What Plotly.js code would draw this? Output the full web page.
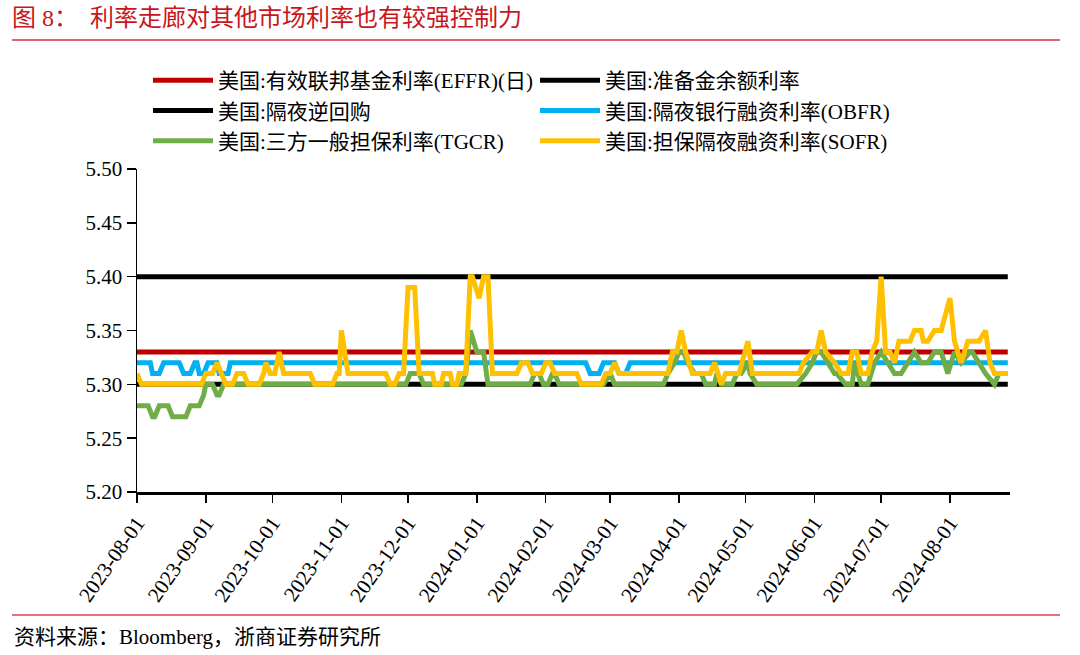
<!DOCTYPE html>
<html>
<head>
<meta charset="utf-8">
<script src="https://cdn.plot.ly/plotly-3.0.1.min.js"></script>
<style>
  html, body { margin: 0; padding: 0; background: #fff; }
  #chart { width: 1080px; height: 655px; }
</style>
</head>
<body>
<div id="chart"></div>
<script>
// ---------------- data ----------------
const tickLabels = ['2023-08-01','2023-09-01','2023-10-01','2023-11-01','2023-12-01','2024-01-01',
  '2024-02-01','2024-03-01','2024-04-01','2024-05-01','2024-06-01','2024-07-01','2024-08-01'];

const seriesNames = ['美国:有效联邦基金利率(EFFR)(日)', '美国:准备金余额利率', '美国:隔夜逆回购',
  '美国:隔夜银行融资利率(OBFR)', '美国:三方一般担保利率(TGCR)', '美国:担保隔夜融资利率(SOFR)'];

const effrDates = ['2023-08-01', '2024-08-27'];
const effrVals  = [5.33, 5.33];

const iorbDates = ['2023-08-01', '2024-08-27'];
const iorbVals  = [5.40, 5.40];

const rrpDates = ['2023-08-01', '2024-08-27'];
const rrpVals  = [5.30, 5.30];

const obfrDates = ['2023-08-01','2023-08-07','2023-08-08','2023-08-11','2023-08-13','2023-08-20','2023-08-22',
  '2023-08-25','2023-08-27','2023-08-28','2023-08-29','2023-08-31','2023-09-02','2023-09-06','2023-09-07',
  '2023-09-11','2023-09-12','2024-02-19','2024-02-21','2024-02-25','2024-02-27','2024-03-03','2024-03-05',
  '2024-03-08','2024-03-10','2024-08-27'];
const obfrVals = [5.32,5.32,5.31,5.31,5.32,5.32,5.31,
  5.31,5.32,5.32,5.31,5.31,5.32,5.32,5.31,
  5.31,5.32,5.32,5.31,5.31,5.32,5.32,5.31,
  5.31,5.32,5.32];

const tgcrDates = ['2023-08-01','2023-08-06','2023-08-08','2023-08-09','2023-08-11','2023-08-15','2023-08-17',
  '2023-08-23','2023-08-25','2023-08-29','2023-08-31','2023-09-01','2023-09-04','2023-09-06','2023-09-07',
  '2023-09-09','2023-11-30','2023-12-02','2023-12-06','2023-12-08','2023-12-25','2023-12-27','2023-12-29',
  '2024-01-01','2024-01-04','2024-01-06','2024-01-25','2024-01-27','2024-01-29','2024-01-31','2024-02-02',
  '2024-02-04','2024-02-05','2024-02-07','2024-02-27','2024-03-01','2024-03-03','2024-03-25','2024-03-27',
  '2024-03-30','2024-04-01','2024-04-03','2024-04-05','2024-04-08','2024-04-11','2024-04-13','2024-04-17',
  '2024-04-18','2024-04-20','2024-04-25','2024-04-27','2024-04-29','2024-05-02','2024-05-03','2024-05-06',
  '2024-05-24','2024-05-28','2024-05-31','2024-06-02','2024-06-04','2024-06-07','2024-06-10','2024-06-11',
  '2024-06-15','2024-06-18','2024-06-19','2024-06-22','2024-06-25','2024-06-28','2024-07-01','2024-07-04',
  '2024-07-07','2024-07-10','2024-07-13','2024-07-16','2024-07-19','2024-07-22','2024-07-25','2024-07-28',
  '2024-07-31','2024-08-03','2024-08-06','2024-08-10','2024-08-11','2024-08-14','2024-08-17','2024-08-21',
  '2024-08-23','2024-08-27'];
const tgcrVals = [5.28,5.28,5.27,5.27,5.28,5.28,5.27,
  5.27,5.28,5.28,5.29,5.30,5.30,5.29,5.29,
  5.30,5.30,5.31,5.31,5.30,5.30,5.31,5.35,
  5.33,5.33,5.30,5.30,5.31,5.31,5.30,5.30,
  5.31,5.31,5.30,5.30,5.31,5.30,5.30,5.31,
  5.32,5.33,5.33,5.32,5.31,5.31,5.30,5.30,
  5.31,5.30,5.30,5.31,5.31,5.32,5.31,5.30,
  5.30,5.31,5.32,5.33,5.33,5.32,5.31,5.31,
  5.30,5.30,5.32,5.30,5.30,5.32,5.33,5.32,
  5.31,5.31,5.32,5.33,5.32,5.32,5.33,5.33,
  5.31,5.33,5.32,5.33,5.33,5.32,5.31,5.30,
  5.31,5.31];

const sofrDates = ['2023-08-01','2023-08-03','2023-08-30','2023-09-01','2023-09-04','2023-09-06','2023-09-08',
  '2023-09-10','2023-09-13','2023-09-15','2023-09-18','2023-09-20','2023-09-25','2023-09-27','2023-09-28',
  '2023-09-30','2023-10-02','2023-10-04','2023-10-06','2023-10-18','2023-10-20','2023-10-28','2023-10-30',
  '2023-10-31','2023-11-01','2023-11-03','2023-11-04','2023-11-21','2023-11-23','2023-11-25','2023-11-27',
  '2023-11-29','2023-12-01','2023-12-04','2023-12-06','2023-12-12','2023-12-13','2023-12-16','2023-12-17',
  '2023-12-20','2023-12-21','2023-12-23','2023-12-24','2023-12-27','2023-12-29','2023-12-30','2024-01-02',
  '2024-01-04','2024-01-06','2024-01-08','2024-01-19','2024-01-21','2024-01-24','2024-01-26','2024-01-30',
  '2024-02-01','2024-02-03','2024-02-05','2024-02-15','2024-02-17','2024-02-26','2024-02-28','2024-03-01',
  '2024-03-03','2024-03-05','2024-03-27','2024-03-29','2024-03-31','2024-04-02','2024-04-04','2024-04-07',
  '2024-04-15','2024-04-17','2024-04-20','2024-04-22','2024-04-28','2024-05-02','2024-05-04','2024-05-25',
  '2024-05-27','2024-05-31','2024-06-02','2024-06-04','2024-06-06','2024-06-10','2024-06-13','2024-06-16',
  '2024-06-18','2024-06-20','2024-06-22','2024-06-25','2024-06-27','2024-06-29','2024-07-01','2024-07-03',
  '2024-07-05','2024-07-07','2024-07-09','2024-07-14','2024-07-16','2024-07-19','2024-07-20','2024-07-22',
  '2024-07-25','2024-07-28','2024-08-01','2024-08-03','2024-08-06','2024-08-09','2024-08-14','2024-08-17',
  '2024-08-19','2024-08-21','2024-08-27'];
const sofrVals = [5.31,5.30,5.30,5.31,5.31,5.32,5.31,
  5.30,5.30,5.31,5.31,5.30,5.30,5.31,5.32,
  5.31,5.31,5.33,5.31,5.31,5.30,5.30,5.31,
  5.31,5.35,5.32,5.31,5.31,5.30,5.30,5.31,
  5.31,5.39,5.39,5.31,5.31,5.30,5.30,5.31,
  5.31,5.30,5.30,5.31,5.31,5.40,5.40,5.38,
  5.40,5.40,5.31,5.31,5.32,5.32,5.31,5.31,
  5.32,5.32,5.31,5.31,5.30,5.30,5.31,5.31,
  5.32,5.31,5.31,5.33,5.33,5.35,5.33,5.31,
  5.31,5.32,5.30,5.31,5.31,5.34,5.31,5.31,
  5.32,5.33,5.33,5.35,5.33,5.32,5.31,5.31,
  5.33,5.33,5.31,5.31,5.33,5.34,5.40,5.33,
  5.33,5.32,5.34,5.34,5.35,5.35,5.34,5.34,
  5.35,5.35,5.38,5.34,5.32,5.34,5.34,5.35,
  5.32,5.31,5.31];

const seriesColors = ['#c00000', '#000000', '#000000', '#00b0f0', '#70ad47', '#ffc000'];

// ---------------- chart ----------------
const FONT = "'Liberation Serif', 'Noto Sans CJK SC', serif";
const W = 1080, H = 655;
const M = {l: 137, r: 70, t: 169, b: 163};
const pw = W - M.l - M.r, ph = H - M.t - M.b;
const px2x = x => (x - M.l) / pw;
const py2y = y => (H - M.b - y) / ph;

const allX = [effrDates, iorbDates, rrpDates, obfrDates, tgcrDates, sofrDates];
const allY = [effrVals, iorbVals, rrpVals, obfrVals, tgcrVals, sofrVals];

const traces = allX.map((xs, i) => ({
  type: 'scatter', mode: 'lines', x: xs, y: allY[i], name: seriesNames[i],
  line: {color: seriesColors[i], width: 5}, hoverinfo: 'skip'
}));

const layout = {
  width: W, height: H,
  margin: M,
  paper_bgcolor: '#ffffff', plot_bgcolor: '#ffffff',
  font: {family: FONT, color: '#000', size: 21},
  showlegend: true,
  title: {
    text: '图 8：\u00a0\u00a0利率走廊对其他市场利率也有较强控制力',
    xref: 'container', x: 12 / W, xanchor: 'left',
    yref: 'container', y: 1 - 18 / H, yanchor: 'middle',
    font: {family: FONT, size: 24, color: '#c8161d'}
  },
  legend: {
    orientation: 'h', x: px2x(148), xanchor: 'left', y: py2y(60), yanchor: 'top',
    entrywidth: 312, entrywidthmode: 'pixels', itemwidth: 60,
    font: {family: FONT, size: 21, color: '#000'}, bgcolor: 'rgba(0,0,0,0)', traceorder: 'normal'
  },
  xaxis: {
    type: 'date', range: ['2023-08-01', '2024-08-28'],
    tickmode: 'array', tickvals: tickLabels, ticktext: tickLabels, tickangle: -55,
    ticks: 'outside', ticklen: 8, tickwidth: 1.5, tickcolor: '#000',
    showline: true, linecolor: '#000', linewidth: 2.5,
    showgrid: false, zeroline: false,
    tickfont: {family: FONT, size: 21, color: '#000'}
  },
  yaxis: {
    range: [5.2, 5.5], dtick: 0.05, tick0: 5.2, tickformat: '.2f',
    ticks: 'outside', ticklen: 9, tickwidth: 1.5, tickcolor: '#000',
    showline: true, linecolor: '#000', linewidth: 1.5,
    showgrid: false, zeroline: false,
    tickfont: {family: FONT, size: 21, color: '#000'}
  },
  shapes: [
    {type: 'line', xref: 'paper', yref: 'paper', x0: px2x(12), x1: px2x(1060), y0: py2y(40), y1: py2y(40),
     line: {color: '#d9303a', width: 1.5}},
    {type: 'line', xref: 'paper', yref: 'paper', x0: px2x(12), x1: px2x(1060), y0: py2y(615), y1: py2y(615),
     line: {color: '#e0404a', width: 1.5}}
  ],
  annotations: [
    {text: '资料来源：Bloomberg，浙商证券研究所', xref: 'paper', yref: 'paper',
     x: px2x(12), y: py2y(637), xanchor: 'left', yanchor: 'middle', showarrow: false,
     font: {family: FONT, size: 21, color: '#000'}}
  ]
};

Plotly.newPlot('chart', traces, layout, {displayModeBar: false, staticPlot: true});
</script>
</body>
</html>
